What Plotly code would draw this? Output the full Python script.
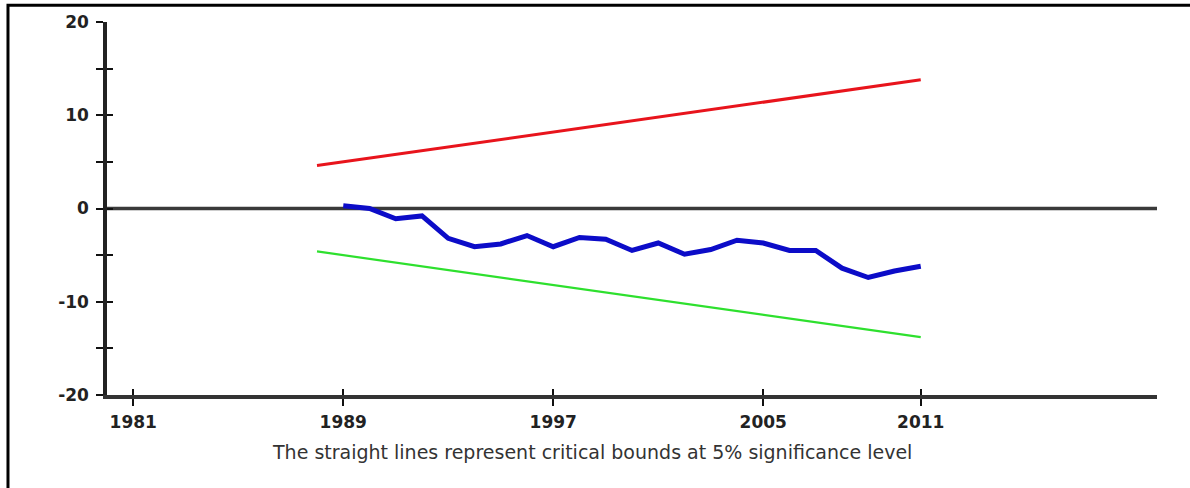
import plotly.graph_objects as go

# ---- data ----
years = list(range(1989, 2012))
cusum = [0.3, 0.0, -1.1, -0.8, -3.2, -4.1, -3.8, -2.9, -4.1, -3.1, -3.3, -4.5,
         -3.7, -4.9, -4.4, -3.4, -3.7, -4.5, -4.5, -6.4, -7.4, -6.7, -6.2]
bound_years = [1988, 2011]
upper_bound = [4.6, 13.8]
lower_bound = [-4.6, -13.8]
zero_years = [1980, 2020]
zero_line = [0, 0]

x_tick_vals = [1981, 1989, 1997, 2005, 2011]
x_tick_text = ["1981", "1989", "1997", "2005", "2011"]
y_tick_vals = [-20, -15, -10, -5, 0, 5, 10, 15, 20]
y_tick_text = ["-20", "", "-10", "", "0", "", "10", "", "20"]
caption = "The straight lines represent critical bounds at 5% significance level"

X_RANGE = [1980, 2020]
Y_RANGE = [-20, 20]

fig = go.Figure()
fig.add_trace(go.Scatter(x=zero_years, y=zero_line, mode="lines",
                         line=dict(color="#3a3a3a", width=3.5), hoverinfo="skip"))
fig.add_trace(go.Scatter(x=bound_years, y=upper_bound, mode="lines",
                         line=dict(color="#e8141c", width=3)))
fig.add_trace(go.Scatter(x=bound_years, y=lower_bound, mode="lines",
                         line=dict(color="#2ee02e", width=2.2)))
fig.add_trace(go.Scatter(x=years, y=cusum, mode="lines",
                         line=dict(color="#0c0cc8", width=5)))
# invisible trace so the overlay axes (inner half of the crossing ticks) render
fig.add_trace(go.Scatter(x=zero_years, y=zero_line, mode="lines", xaxis="x2", yaxis="y2",
                         line=dict(color="rgba(0,0,0,0)", width=0), hoverinfo="skip"))

tick_font = dict(family="DejaVu Sans", size=17, color="#222222", weight="bold")

fig.update_layout(
    width=1190, height=488,
    margin=dict(l=107, r=33, t=22, b=93),
    paper_bgcolor="white", plot_bgcolor="white",
    showlegend=False,
    xaxis=dict(range=X_RANGE, tickvals=x_tick_vals, ticktext=x_tick_text,
               showgrid=False, zeroline=False, showline=True, linecolor="#333333",
               linewidth=3.5, ticks="outside", ticklen=7, tickwidth=2, tickcolor="#111111",
               tickfont=tick_font, ticklabelstandoff=2),
    yaxis=dict(range=Y_RANGE, tickvals=y_tick_vals, ticktext=y_tick_text,
               showgrid=False, zeroline=False, showline=True, linecolor="#222222",
               linewidth=3.5, ticks="outside", ticklen=7, tickwidth=2, tickcolor="#111111",
               tickfont=tick_font, ticklabelstandoff=4),
    xaxis2=dict(range=X_RANGE, overlaying="x", side="bottom", anchor="y",
                tickvals=x_tick_vals, showticklabels=False, showgrid=False,
                zeroline=False, showline=False, ticks="inside", ticklen=6,
                tickwidth=2, tickcolor="#111111"),
    yaxis2=dict(range=Y_RANGE, overlaying="y", side="left", anchor="x",
                tickvals=y_tick_vals, showticklabels=False, showgrid=False,
                zeroline=False, showline=False, ticks="inside", ticklen=6,
                tickwidth=2, tickcolor="#111111"),
    annotations=[dict(text=caption, xref="paper", yref="paper", x=0.462, y=-0.153,
                      xanchor="center", yanchor="middle", showarrow=False,
                      font=dict(family="DejaVu Sans", size=19, color="#333333"))],
    shapes=[dict(type="rect", xref="paper", yref="paper",
                 x0=-0.0943, x1=1.2, y0=-0.5, y1=1.045,
                 line=dict(color="black", width=3), fillcolor="rgba(0,0,0,0)",
                 layer="below")],
)

fig.write_html("out.html", config={"displayModeBar": False},
               post_script="document.body.style.margin='0';document.body.style.overflow='hidden';")
